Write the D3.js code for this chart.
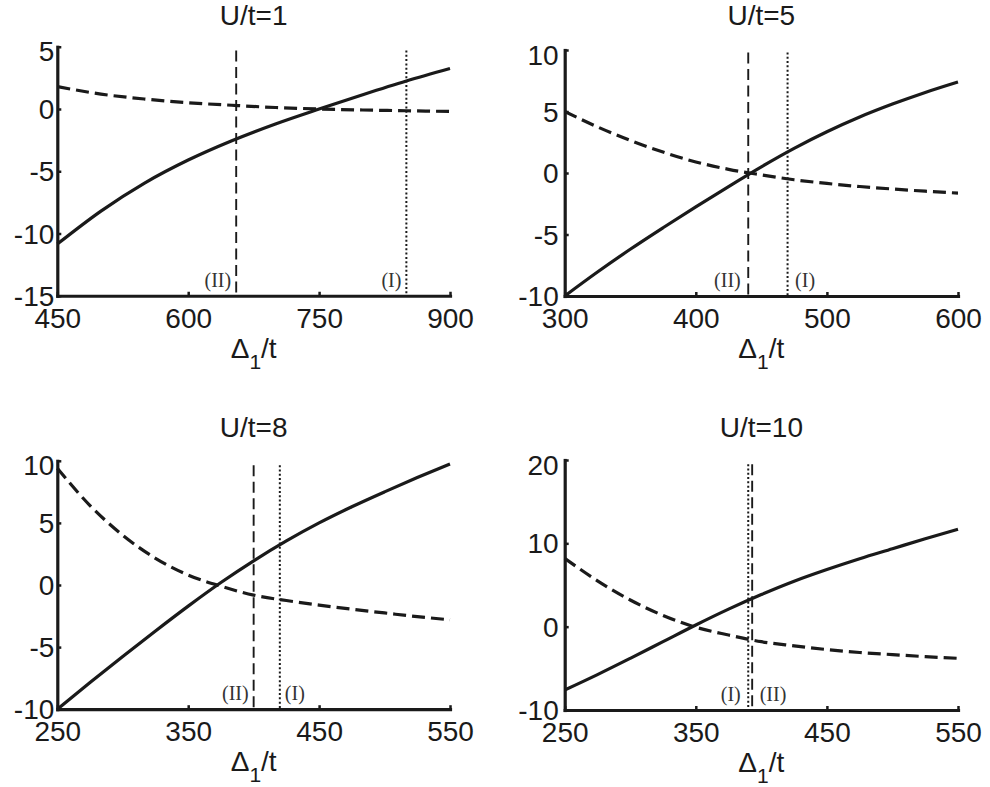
<!DOCTYPE html>
<html>
<head>
<meta charset="utf-8">
<script src="https://cdn.jsdelivr.net/npm/d3@7"></script>
<style>
  html, body { margin: 0; padding: 0; background: #fff; }
  svg { display: block; }
</style>
</head>
<body>
<svg id="chart" width="990" height="787"></svg>
<script>
// ---------------- data ----------------
const titles = ["U/t=1", "U/t=5", "U/t=8", "U/t=10"];

const p1X      = [450, 500, 550, 600, 650, 700, 750, 800, 850, 900];
const p1Solid  = [-10.85, -8.2, -5.95, -4.1, -2.55, -1.2, 0.0, 1.15, 2.25, 3.25];
const p1Dashed = [1.8, 1.2, 0.8, 0.5, 0.3, 0.12, 0.0, -0.08, -0.14, -0.2];

const p2X      = [300, 325, 350, 375, 400, 425, 450, 475, 500, 525, 550, 575, 600];
const p2Solid  = [-10, -8.05, -6.2, -4.45, -2.75, -1.1, 0.5, 2.0, 3.35, 4.55, 5.6, 6.55, 7.4];
const p2Dashed = [5.0, 3.75, 2.65, 1.7, 0.9, 0.3, -0.15, -0.55, -0.85, -1.1, -1.3, -1.48, -1.63];

const p3X      = [250, 275, 300, 325, 350, 375, 400, 425, 450, 475, 500, 525, 550];
const p3Solid  = [-10, -7.85, -5.75, -3.7, -1.7, 0.2, 1.95, 3.55, 5.0, 6.3, 7.5, 8.65, 9.75];
const p3Dashed = [9.4, 6.4, 4.0, 2.15, 0.8, -0.1, -0.82, -1.25, -1.62, -1.95, -2.25, -2.55, -2.8];

const p4X      = [250, 275, 300, 325, 350, 375, 400, 425, 450, 475, 500, 525, 550];
const p4Solid  = [-7.6, -5.75, -3.8, -1.8, 0.2, 2.1, 3.85, 5.45, 6.85, 8.15, 9.35, 10.55, 11.7];
const p4Dashed = [8.2, 5.5, 3.2, 1.35, -0.07, -1.0, -1.8, -2.3, -2.75, -3.1, -3.35, -3.6, -3.8];

const xTicks = [[450, 600, 750, 900], [300, 400, 500, 600], [250, 350, 450, 550], [250, 350, 450, 550]];
const yTicks = [[-15, -10, -5, 0, 5], [-10, -5, 0, 5, 10], [-10, -5, 0, 5, 10], [-10, 0, 10, 20]];

// vertical marker lines: value, label, style, label side, top (data units)
const p1Marks = [{x: 655, label: "(II)", kind: "dash", side: "left", top: 4.7},
                 {x: 850, label: "(I)",  kind: "dot",  side: "left", top: 4.7}];
const p2Marks = [{x: 440, label: "(II)", kind: "dash", side: "left", top: 9.8},
                 {x: 470, label: "(I)",  kind: "dot",  side: "right", top: 9.8}];
const p3Marks = [{x: 400, label: "(II)", kind: "dash", side: "left", top: 9.65},
                 {x: 420, label: "(I)",  kind: "dot",  side: "right", top: 9.65}];
const p4Marks = [{x: 390, label: "(I)",  kind: "dot",  side: "left", top: 19.5},
                 {x: 393, label: "(II)", kind: "dash", side: "right", top: 19.5}];

// ---------------- layout ----------------
const panels = [
  {x: p1X, solid: p1Solid, dashed: p1Dashed, marks: p1Marks, xd: [450, 900], yd: [-15, 5],
   L: 57.3, R: 450, T: 46.75, B: 295.75, titleY: 25, ylGap: 3, mGap: 5},
  {x: p2X, solid: p2Solid, dashed: p2Dashed, marks: p2Marks, xd: [300, 600], yd: [-10, 10],
   L: 564.7, R: 958, T: 50, B: 296, titleY: 25, ylGap: 6, mGap: 7.5},
  {x: p3X, solid: p3Solid, dashed: p3Dashed, marks: p3Marks, xd: [250, 550], yd: [-10, 10],
   L: 57.3, R: 450, T: 460.8, B: 709.2, titleY: 437, ylGap: 3, mGap: 5},
  {x: p4X, solid: p4Solid, dashed: p4Dashed, marks: p4Marks, xd: [250, 550], yd: [-10, 20],
   L: 564.7, R: 958, T: 460, B: 710, titleY: 437, ylGap: 6, mGap: 7.5}
];

const svg = d3.select("#chart");
const INK = "#1a1a1a";
const SANS = "'Liberation Sans', Arial, Helvetica, sans-serif";
const SERIF = "'Liberation Serif', 'Times New Roman', serif";

panels.forEach((p, i) => {
  const xs = d3.scaleLinear().domain(p.xd).range([p.L, p.R]);
  const ys = d3.scaleLinear().domain(p.yd).range([p.B, p.T]);
  const g = svg.append("g");

  // vertical marker lines
  p.marks.forEach(m => {
    g.append("line")
      .attr("x1", xs(m.x)).attr("x2", xs(m.x))
      .attr("y1", ys(m.top)).attr("y2", ys(p.yd[0]))
      .attr("stroke", INK)
      .attr("stroke-width", m.kind === "dash" ? 1.9 : 2)
      .attr("stroke-dasharray", m.kind === "dash" ? "11,5.5" : "2,2.3");
    g.append("text")
      .attr("x", m.side === "left" ? xs(m.x) - p.mGap : xs(m.x) + p.mGap)
      .attr("y", ys(p.yd[0]) - 9)
      .attr("text-anchor", m.side === "left" ? "end" : "start")
      .attr("font-family", SERIF)
      .attr("font-size", 20)
      .attr("fill", "#333")
      .text(m.label);
  });

  // curves
  const line = d3.line().x(d => xs(d[0])).y(d => ys(d[1])).curve(d3.curveMonotoneX);
  g.append("path")
    .datum(p.x.map((v, k) => [v, p.solid[k]]))
    .attr("d", line).attr("fill", "none")
    .attr("stroke", INK).attr("stroke-width", 3.2);
  g.append("path")
    .datum(p.x.map((v, k) => [v, p.dashed[k]]))
    .attr("d", line).attr("fill", "none")
    .attr("stroke", INK).attr("stroke-width", 3.2)
    .attr("stroke-dasharray", "13,6");

  // axes
  const xa = g.append("g").attr("transform", `translate(0,${p.B})`)
    .call(d3.axisBottom(xs).tickValues(xTicks[i]).tickFormat(d => String(d))
      .tickSizeInner(-4).tickSizeOuter(0).tickPadding(12));
  const ya = g.append("g").attr("transform", `translate(${p.L},0)`)
    .call(d3.axisLeft(ys).tickValues(yTicks[i]).tickFormat(d => String(d))
      .tickSizeInner(-4).tickSizeOuter(0).tickPadding(p.ylGap));
  [xa, ya].forEach(a => {
    a.attr("font-family", SANS).attr("font-size", 28);
    a.select(".domain").attr("stroke", INK).attr("stroke-width", 3.2).attr("stroke-linecap", "square");
    a.selectAll(".tick line").attr("stroke", INK).attr("stroke-width", 2.5);
    a.selectAll(".tick text").attr("fill", INK);
  });
  const yTop = p.yd[1];
  ya.selectAll(".tick text").attr("dy", d => d === yTop ? "0.5em" : "0.34em");

  // title
  g.append("text")
    .attr("x", (p.L + p.R) / 2).attr("y", p.titleY)
    .attr("text-anchor", "middle")
    .attr("font-family", SANS).attr("font-size", 28).attr("fill", INK)
    .text(titles[i]);

  // x label  Δ1/t
  const xl = g.append("text")
    .attr("x", (p.L + p.R) / 2).attr("y", p.B + 62)
    .attr("text-anchor", "middle")
    .attr("font-family", SANS).attr("font-size", 28).attr("fill", INK);
  xl.append("tspan").text("Δ");
  xl.append("tspan").attr("font-size", 21).attr("dy", 11).text("1");
  xl.append("tspan").attr("dy", -11).text("/t");
});
</script>
</body>
</html>
